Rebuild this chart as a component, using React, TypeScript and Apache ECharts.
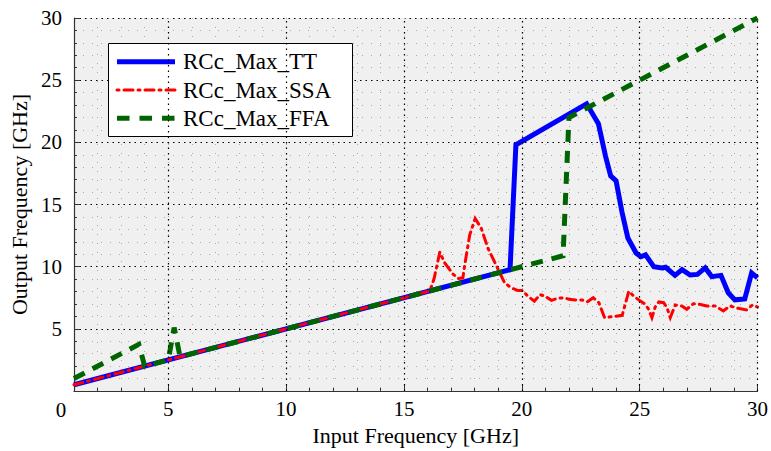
import React, { useEffect, useRef } from "react";
import * as echarts from "echarts";

const seriesNames = ["RCc_Max_TT", "RCc_Max_SSA", "RCc_Max_FFA"];

const ttX = [1, 19.5, 19.75, 22.75, 23.25, 23.55, 23.77, 24.0, 24.25, 24.5, 24.85, 25.05, 25.25, 25.6, 25.95, 26.1, 26.5, 26.8, 27.14, 27.45, 27.78, 28.06, 28.45, 28.76, 29.04, 29.46, 29.75, 30];
const ttY = [0.5, 9.75, 19.8, 23.1, 21.5, 18.9, 17.3, 16.9, 14.4, 12.3, 11.1, 10.8, 10.95, 10.0, 9.9, 9.95, 9.3, 9.76, 9.33, 9.38, 9.9, 9.2, 9.3, 7.9, 7.33, 7.4, 9.5, 9.1];

const ssaX = [1, 16.1, 16.28, 16.52, 16.73, 17.08, 17.3, 17.5, 17.58, 17.79, 18.02, 18.28, 18.56, 18.9, 19.27, 19.55, 19.83, 20.04, 20.25, 20.53, 20.78, 21.02, 21.26, 21.5, 21.8, 22.0, 22.36, 22.57, 22.78, 23.03, 23.27, 23.51, 23.84, 24.26, 24.54, 24.75, 25.03, 25.24, 25.38, 25.52, 25.66, 25.81, 26.02, 26.16, 26.3, 26.51, 26.79, 27.0, 27.28, 27.54, 27.85, 28.2, 28.55, 28.83, 29.18, 29.53, 29.79, 30];
const ssaY = [0.5, 8.05, 9.05, 11.17, 10.3, 9.4, 9.05, 9.1, 10.16, 12.55, 13.88, 13.09, 11.5, 10.16, 8.7, 8.3, 8.08, 8.08, 7.63, 7.23, 7.76, 7.58, 7.29, 7.45, 7.5, 7.37, 7.31, 7.31, 7.18, 7.5, 7.1, 5.9, 5.98, 6.09, 8.03, 7.63, 7.23, 6.97, 6.57, 5.9, 6.76, 7.16, 7.1, 6.7, 5.9, 6.92, 6.84, 6.57, 7.02, 6.97, 6.84, 6.84, 6.44, 6.84, 6.65, 6.52, 6.92, 6.76];

const ffaX = [1, 3.75, 4.0, 5.0, 5.25, 5.5, 21.75, 22.0, 30];
const ffaY = [1, 3.75, 2.0, 2.5, 5.1, 2.75, 10.875, 22.0, 30];

const xMajorTicks = [5, 10, 15, 20, 25, 30];
const xCornerLabel = "0";
const xTitle = "Input Frequency [GHz]";
const yTitle = "Output Frequency [GHz]";

const FONT = "Liberation Serif";

const colors = ["#0000ff", "#ff0000", "#006400"];
const widths = [5, 3, 5];
const dashes: (number[] | "solid")[] = ["solid", [9, 5, 2, 5], [12, 9]];
const legendDashes: (number[] | null)[] = [null, [2, 5, 9, 5], [12.5, 10]];

const zip = (xs: number[], ys: number[]) => xs.map((x, i) => [x, ys[i]]);

export default function App() {
  const ref = useRef<HTMLDivElement>(null);
  useEffect(() => {
    document.body.style.margin = "0";
    if (!ref.current) return;
    const chart = echarts.init(ref.current, null, { renderer: "svg" });
    const majorGrid = { color: "#000", width: 1.2, type: [1.5, 4] as number[] };
    const minorGrid = { color: "#aaaaaa", width: 1, type: [1, 8] as number[] };

    const legendBox = { x: 108.5, y: 43.5, w: 244, h: 93 };
    const rowY = [61.7, 90, 118.3];
    const legendGraphics: any[] = [
      {
        type: "rect",
        z: 4,
        shape: { x: legendBox.x, y: legendBox.y, width: legendBox.w, height: legendBox.h },
        style: { fill: "#fff", stroke: "#000", lineWidth: 1 },
      },
    ];
    seriesNames.forEach((name, i) => {
      legendGraphics.push({
        type: "line",
        z: 5,
        shape: { x1: 117, y1: rowY[i], x2: 175, y2: rowY[i] },
        style: {
          stroke: colors[i],
          lineWidth: widths[i],
          lineDash: legendDashes[i] || undefined,
          lineCap: i === 1 ? "round" : "butt",
        },
      });
      legendGraphics.push({
        type: "text",
        z: 5,
        x: 183,
        y: rowY[i],
        style: { text: name, font: `23px "${FONT}"`, fill: "#000", align: "left", verticalAlign: "middle" },
      });
    });

    chart.setOption({
      animation: false,
      textStyle: { fontFamily: FONT },
      grid: {
        left: 74,
        right: 10,
        top: 18,
        bottom: 57,
        show: true,
        backgroundColor: "#f0f0f0",
        borderWidth: 0,
      },
      graphic: [
        ...legendGraphics,
        {
          type: "text",
          z: 4,
          x: 61,
          y: 410,
          style: { text: xCornerLabel, font: `21px "${FONT}"`, fill: "#000", align: "center", verticalAlign: "middle" },
        },
      ],
      xAxis: [
        {
          type: "value",
          min: 1,
          max: 30,
          interval: 1,
          axisLine: { show: true, onZero: false, lineStyle: { color: "#333", width: 1.2 } },
          axisTick: { show: true, inside: true, length: 3, lineStyle: { color: "#333" } },
          axisLabel: { show: false },
          splitLine: { show: true, lineStyle: minorGrid },
          name: xTitle,
          nameLocation: "middle",
          nameGap: 33,
          nameTextStyle: { fontFamily: FONT, fontSize: 22, color: "#000" },
        },
        {
          type: "value",
          min: 1,
          max: 30,
          position: "bottom",
          axisLine: { show: false },
          axisTick: { show: true, inside: true, length: 6, customValues: xMajorTicks, lineStyle: { color: "#333" } },
          axisLabel: { show: true, customValues: xMajorTicks, margin: 7, fontFamily: FONT, fontSize: 21, color: "#000" },
          splitLine: { show: false },
        },
      ],
      yAxis: {
        type: "value",
        min: 0,
        max: 30,
        interval: 5,
        axisLine: { show: true, onZero: false, lineStyle: { color: "#333", width: 1.2 } },
        axisTick: { show: true, inside: true, length: 6, lineStyle: { color: "#333" } },
        minorTick: { show: true, splitNumber: 5, length: 3, lineStyle: { color: "#333" } },
        axisLabel: {
          margin: 12,
          fontFamily: FONT,
          fontSize: 21,
          color: "#000",
          formatter: (v: number) => (v === 0 ? "" : String(v)),
        },
        splitLine: { show: true, lineStyle: majorGrid },
        minorSplitLine: { show: true, lineStyle: minorGrid },
        name: yTitle,
        nameLocation: "middle",
        nameGap: 40,
        nameTextStyle: { fontFamily: FONT, fontSize: 22, color: "#000" },
      },
      series: [
        {
          name: "__grid",
          type: "line",
          data: [],
          z: 1,
          silent: true,
          markLine: {
            silent: true,
            symbol: "none",
            label: { show: false },
            lineStyle: majorGrid,
            data: xMajorTicks.map((v) => ({ xAxis: v })),
          },
        },
        ...seriesNames.map((name, i) => ({
          name,
          type: "line",
          data: zip([ttX, ssaX, ffaX][i], [ttY, ssaY, ffaY][i]),
          showSymbol: false,
          symbol: "none",
          lineStyle: { color: colors[i], width: widths[i], type: dashes[i], cap: i === 1 ? "round" : "butt", join: "miter" },
          itemStyle: { color: colors[i] },
          z: 2,
        })),
      ],
    });
    return () => chart.dispose();
  }, []);
  return <div ref={ref} style={{ width: 771, height: 451 }} />;
}
